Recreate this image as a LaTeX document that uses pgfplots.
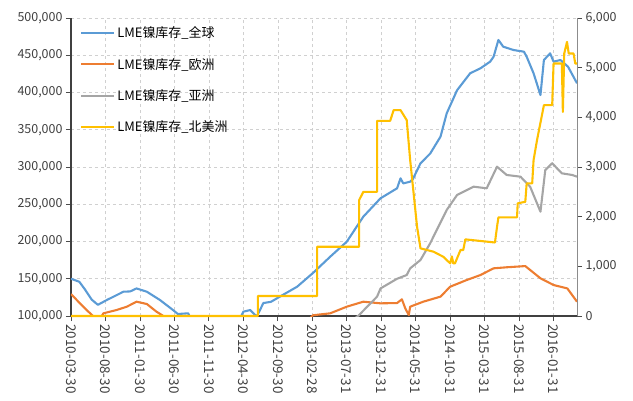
\documentclass[border=0pt]{standalone}
\usepackage{fontspec}
\setmainfont{Noto Sans CJK SC}
\usepackage{pgfplots}
\pgfplotsset{compat=1.18}
\usetikzlibrary{calc}

\definecolor{cBlue}{HTML}{5B9BD5}
\definecolor{cOrange}{HTML}{ED7D31}
\definecolor{cGray}{HTML}{A5A5A5}
\definecolor{cYellow}{HTML}{FFC000}
\definecolor{cGrid}{HTML}{D0D0D0}
\definecolor{cText}{HTML}{404040}

\tikzset{ser/.style={line width=2.1pt, line join=round}}

\pgfplotsset{
  base/.style={
    scale only axis, width=506bp, height=298bp,
    xmin=0, xmax=73.4,
    xtick={0,5,10,15,20,25,30,35,40,45,50,55,60,65,70},
    scaled y ticks=false,
    tick align=outside,
    tick label style={font=\fontsize{12.5}{14}\selectfont, color=cText},
    tick style={black!70, line width=0.8pt},
    major tick length=5bp,
  }
}

\begin{document}
\begin{tikzpicture}
\begin{axis}[base, name=main,
    ymin=100000, ymax=500000,
    ytick={100000,150000,200000,250000,300000,350000,400000,450000,500000},
    yticklabels={{100,000},{150,000},{200,000},{250,000},{300,000},{350,000},{400,000},{450,000},{500,000}},
    axis y line*=left, axis x line*=bottom,
    axis line style={black!75, line width=1.1pt},
    xmajorgrids, ymajorgrids,
    grid style={dashed, cGrid, line width=0.6pt},
    xticklabels={2010-03-30,2010-08-30,2011-01-30,2011-06-30,2011-11-30,2012-04-30,2012-09-30,2013-02-28,2013-07-31,2013-12-31,2014-05-31,2014-10-31,2015-03-31,2015-08-31,2016-01-31},
    x tick label style={rotate=-90, anchor=west, font=\fontsize{13.5}{15}\selectfont},
    legend style={at={(0.012,0.985)}, anchor=north west, draw=none, fill=none,
      font=\fontsize{13}{15}\selectfont, row sep=15bp},
    legend cell align=left,
    legend image code/.code={\draw[#1, ser] (0bp,0bp) -- (33bp,0bp);},
  ]
% LME nickel stocks, global
\addplot[cBlue, ser] coordinates {
(0,150000)(1.2,146000)(2.0,136000)(3.0,122000)(3.9,115000)(5.2,121500)(6.4,127000)
(7.6,132600)(8.6,133000)(9.5,137000)(11.0,132600)(12.9,121500)(14.8,108000)(15.5,102700)
(17.0,103600)(17.3,98000)(24.6,98000)(25.0,105800)(26.0,108000)(26.7,101300)(27.0,100000)
(27.9,117400)(29.0,119000)(30.3,126000)(32.8,139300)(35.1,157700)(37.6,179600)(40.0,199700)
(42.4,233300)(44.9,258000)(47.3,271400)(47.8,284800)(48.2,278000)(49.2,280300)(49.6,284000)
(50.7,305000)(52.1,318000)(53.6,340700)(54.5,372000)(56.0,403000)(57.9,425800)(59.4,432500)
(60.8,441400)(61.3,448000)(62.0,470500)(62.7,461500)(64.2,457000)(65.7,454800)(66.1,448000)
(67.1,425800)(68.1,396600)(68.6,443600)(69.5,452600)(70.0,441400)(71.0,443600)(72.1,434600)
(73.4,412400)
};
\addlegendentry{LME镍库存\_全球}
% Europe
\addplot[cOrange, ser] coordinates {
(0,129500)(1.3,117000)(2.5,106000)(3.2,100000)(3.6,97000)(4.4,99000)(4.7,103600)
(6.6,108000)(8.1,112500)(9.5,119200)(11.0,116100)(12.4,105800)(13.4,100000)(13.6,97000)
(34.7,97000)(35.1,101000)(37.6,103600)(40.0,112500)(42.4,119200)(44.9,117000)(47.3,117400)
(48.0,122400)(48.5,110000)(49.0,101300)(49.2,112500)(51.1,119200)(53.6,126000)(55.0,139300)
(57.4,148300)(59.4,155000)(61.3,164000)(63.2,165400)(65.9,167000)(68.1,150600)(70.0,141600)
(72.0,137000)(73.4,119200)
};
\addlegendentry{LME镍库存\_欧洲}
% Asia
\addplot[cGray, ser] coordinates {
(41.2,97000)(41.7,100500)(44.4,126000)(44.9,137000)(47.3,150000)(48.7,155000)(49.2,164000)
(50.7,175200)(52.1,197600)(54.5,242300)(56.0,262400)(58.4,273600)(60.3,271400)(61.8,300400)
(63.2,289300)(65.2,287000)(66.6,273600)(68.1,240000)(68.8,296000)(69.8,305000)(71.2,291500)
(72.7,289300)(73.4,287000)
};
\addlegendentry{LME镍库存\_亚洲}
\addlegendimage{cYellow}
\addlegendentry{LME镍库存\_北美洲}
\end{axis}

\begin{axis}[base,
    ymin=0, ymax=6000,
    ytick={0,1000,2000,3000,4000,5000,6000},
    yticklabels={0,{1,000},{2,000},{3,000},{4,000},{5,000},{6,000}},
    axis y line*=right, axis x line=none,
    axis line style={black!45, line width=1pt},
    clip=false,
  ]
% North America (right axis)
\addplot[cYellow, ser] coordinates {
(0,0)(27.1,0)(27.1,402)(35.7,402)(35.7,1394)(41.8,1394)(41.8,2334)(42.4,2500)(44.4,2500)
(44.4,3930)(46.3,3930)(46.8,4145)(47.8,4145)(48.7,3944)(49.2,3139)(50.2,1797)(50.7,1362)
(52.6,1294)(54.0,1193)(55.0,1060)(55.25,1200)(55.45,1060)(55.7,1060)(56.5,1328)(56.9,1328)
(57.2,1543)(61.5,1480)(61.8,1797)(62.0,1986)(64.7,1986)(64.8,2268)(65.9,2300)(66.1,2670)
(66.9,2670)(67.1,3139)(67.6,3541)(68.6,4245)(69.8,4245)(70.0,5084)(71.2,5084)(71.35,4110)
(71.55,5285)(71.95,5519)(72.2,5285)(72.9,5285)(73.15,5084)(73.4,5084)
};
\end{axis}

\pgfresetboundingbox
\path ($(main.south west)+(-71bp,-85bp)$) rectangle ($(main.north east)+(56bp,18bp)$);
\end{tikzpicture}
\end{document}
